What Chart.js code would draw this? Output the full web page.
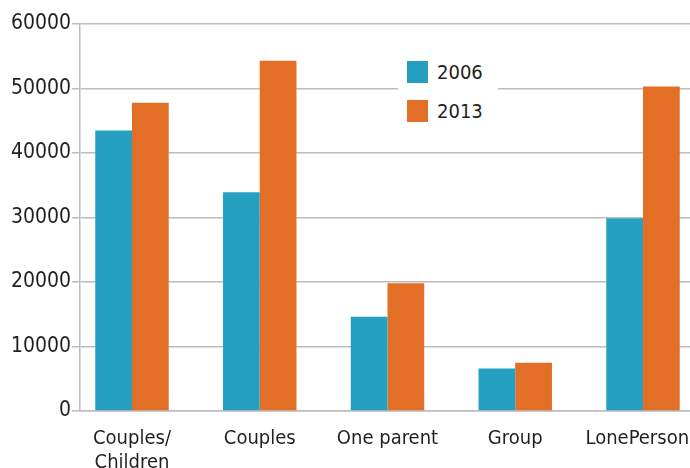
<!DOCTYPE html>
<html>
<head>
<meta charset="utf-8">
<script src="https://cdn.jsdelivr.net/npm/chart.js@4/dist/chart.umd.min.js"></script>
<style>
  body { margin: 0; background: #fff; }
  #wrap { position: relative; width: 690px; height: 468px; overflow: hidden; }
  #legend {
    position: absolute; left: 398px; top: 53px; width: 100px; height: 74px;
    background: #fff; font-family: "DejaVu Sans Condensed", Roboto, sans-serif;
    font-size: 20px; color: #231f20;
  }
  .item { position: absolute; left: 9px; height: 22px; line-height: 22px; }
  .box { display: inline-block; width: 21px; height: 22px; vertical-align: top; margin-right: 9px; }
</style>
</head>
<body>
<div id="wrap">
  <canvas id="chart" width="690" height="468"></canvas>
  <div id="legend"></div>
</div>
<script>
// categories and values
const categories = [['Couples/', 'Children'], 'Couples', 'One parent', 'Group', 'LonePerson'];
const values2006 = [43500, 33900, 14600, 6600, 29900];
const values2013 = [47800, 54300, 19800, 7500, 50300];
const seriesNames = ['2006', '2013'];
const seriesColors = ['#26a0c0', '#e36e26'];
const yTicks = [0, 10000, 20000, 30000, 40000, 50000, 60000];

const gridColor = '#bcbcc1';
const textColor = '#231f20';
const fontFamily = '"DejaVu Sans Condensed", Roboto, sans-serif';

function toPoints(vals) {
  return vals.map((v, i) => ({ x: i, y: v }));
}

const datasets = [values2006, values2013].map((vals, i) => ({
  label: seriesNames[i],
  data: toPoints(vals),
  backgroundColor: seriesColors[i],
  borderWidth: 0,
  categoryPercentage: 0.575,
  barPercentage: 1
}));

new Chart(document.getElementById('chart').getContext('2d'), {
  type: 'bar',
  data: { datasets: datasets },
  options: {
    responsive: false,
    animation: false,
    layout: { padding: { top: 24, right: 0, bottom: 0, left: 0 } },
    plugins: { legend: { display: false }, tooltip: { enabled: false } },
    scales: {
      x: {
        type: 'linear',
        offset: false,
        min: -0.407,
        max: 4.368,
        grid: { display: false, offset: false },
        border: { display: true, color: gridColor, width: 1.5 },
        afterBuildTicks: (scale) => { scale.ticks = categories.map((c, i) => ({ value: i })); },
        afterFit: (scale) => { scale.height = 57; scale.paddingLeft = 0; scale.paddingRight = 0; },
        ticks: {
          autoSkip: false,
          maxRotation: 0,
          padding: 8,
          color: textColor,
          font: { family: fontFamily, size: 20 },
          // last label is nudged left so it stays inside the picture
          callback: (v) => v === categories.length - 1 ? categories[v] + '  ' : categories[v]
        }
      },
      y: {
        min: yTicks[0],
        max: yTicks[yTicks.length - 1],
        grid: { color: gridColor, lineWidth: 1.5, tickLength: 8 },
        border: { display: true, color: gridColor, width: 1.5 },
        afterBuildTicks: (scale) => { scale.ticks = yTicks.map(v => ({ value: v })); },
        afterFit: (scale) => { scale.width = 80; scale.paddingTop = 0; scale.paddingBottom = 0; },
        ticks: {
          padding: 1,
          color: textColor,
          font: { family: fontFamily, size: 21 },
          callback: (v) => String(v)
        }
      }
    }
  }
});

// legend as html, sitting over the chart with a white box
const legend = document.getElementById('legend');
seriesNames.forEach((name, i) => {
  const item = document.createElement('div');
  item.className = 'item';
  item.style.top = (8 + i * 39) + 'px';
  item.innerHTML = '<span class="box" style="background:' + seriesColors[i] + '"></span>' + name;
  legend.appendChild(item);
});
</script>
</body>
</html>
